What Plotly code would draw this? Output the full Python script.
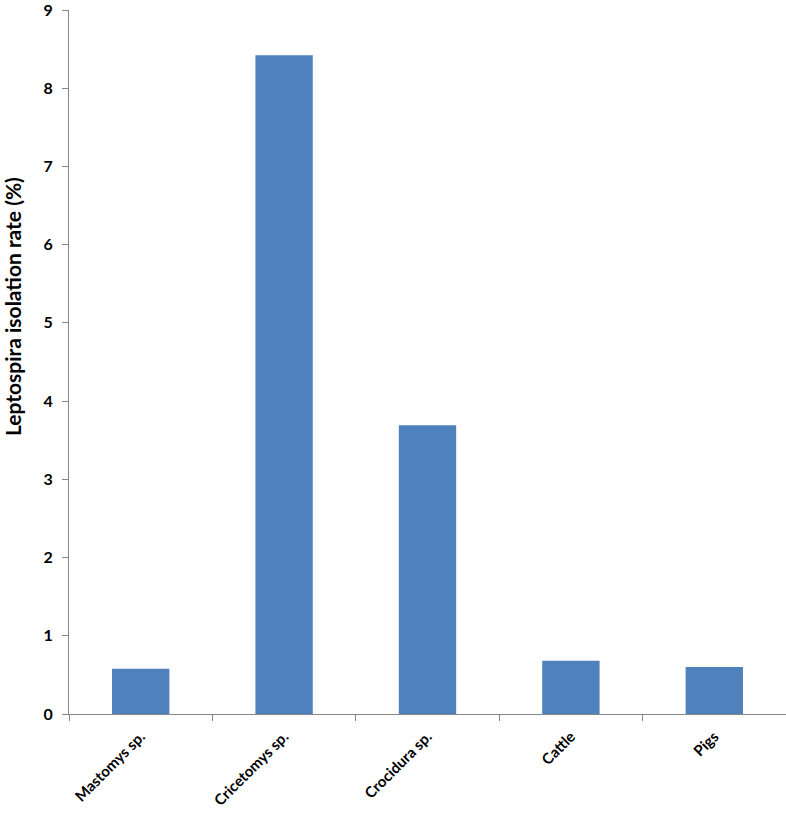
import plotly.graph_objects as go

categories = ["Mastomys sp.", "Cricetomys sp.", "Crocidura sp.", "Cattle", "Pigs"]
rates = [0.58, 8.42, 3.69, 0.68, 0.60]
y_ticks = [0, 1, 2, 3, 4, 5, 6, 7, 8, 9]
y_title = "Leptospira isolation rate (%)"

font_family = "Lato"
axis_color = "#868686"

fig = go.Figure(
    go.Bar(
        x=categories,
        y=rates,
        marker=dict(color="#4F81BD", line=dict(width=0)),
        width=0.4,
    )
)

fig.update_layout(
    width=786,
    height=813,
    margin=dict(l=69, r=0, t=10, b=99, autoexpand=False),
    paper_bgcolor="white",
    plot_bgcolor="white",
    showlegend=False,
    font=dict(family=font_family, size=15, color="black"),
    xaxis=dict(
        automargin=False,
        showline=True,
        linecolor=axis_color,
        linewidth=1,
        ticks="outside",
        tickson="boundaries",
        ticklen=6,
        tickcolor=axis_color,
        tickangle=-45,
        ticklabelstandoff=7,
        tickfont=dict(family=font_family, size=15, color="black", weight="bold"),
        showgrid=False,
    ),
    yaxis=dict(
        automargin=False,
        range=[0, 9],
        tickvals=y_ticks,
        showline=True,
        linecolor=axis_color,
        linewidth=1,
        ticks="outside",
        ticklen=6,
        tickcolor=axis_color,
        ticklabelstandoff=6,
        ticklabeloverflow="allow",
        tickfont=dict(family=font_family, size=16, color="black", weight="bold"),
        showgrid=False,
        zeroline=False,
    ),
    annotations=[
        dict(
            text=y_title,
            xref="paper",
            yref="paper",
            x=(12 - 69) / 717,
            y=0.578,
            textangle=-90,
            showarrow=False,
            xanchor="center",
            yanchor="middle",
            font=dict(family=font_family, size=21, color="black", weight="bold"),
        )
    ],
)

fig.write_html(
    "out.html",
    config={"displayModeBar": False},
    post_script="document.body.style.margin='0';",
)
